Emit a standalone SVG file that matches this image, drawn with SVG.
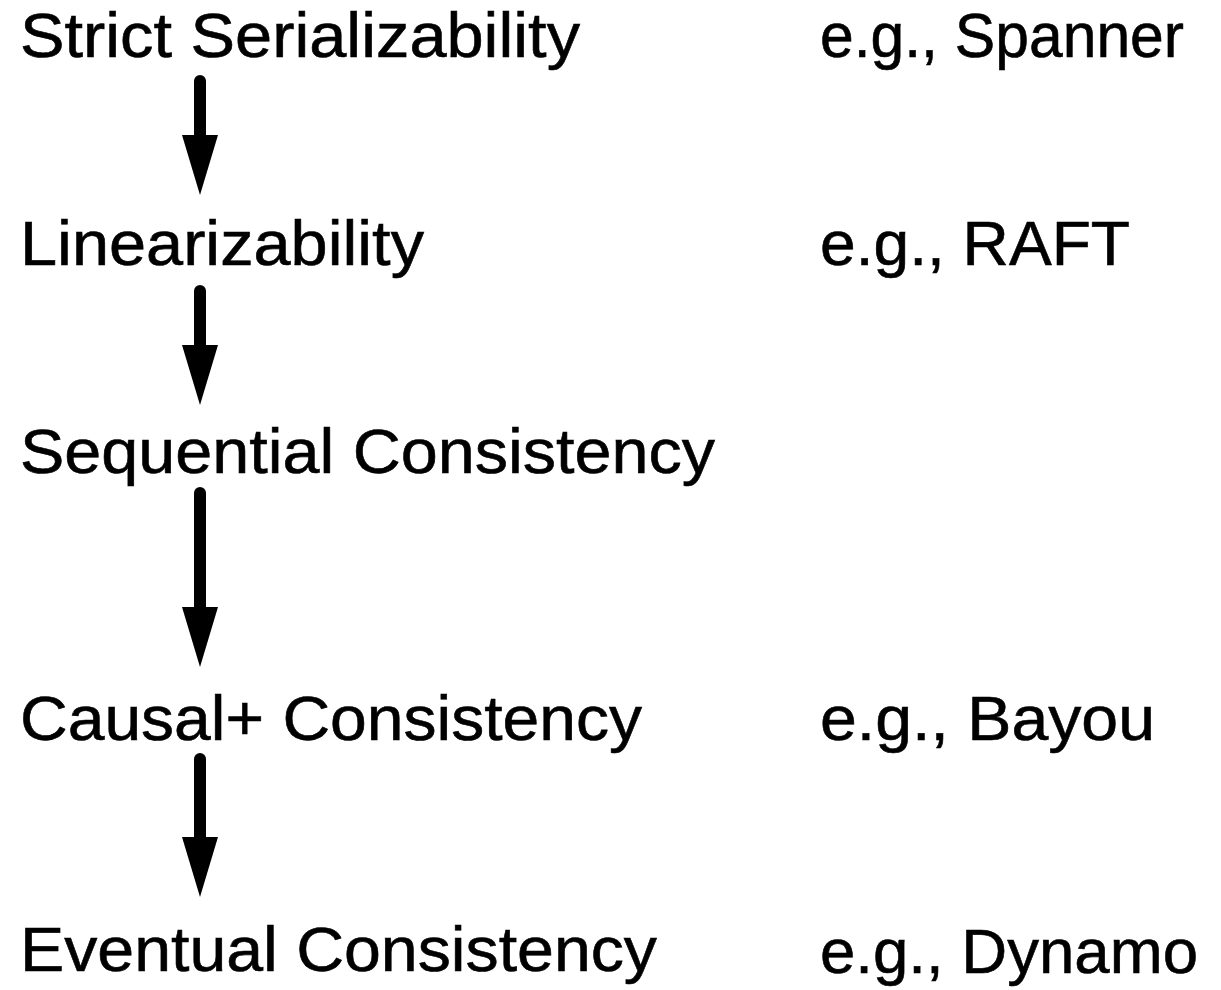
<svg xmlns="http://www.w3.org/2000/svg" width="1221" height="990" viewBox="0 0 1221 990">
<defs>
<style>
.t{font-family:"Liberation Sans",Arial,Helvetica,sans-serif;font-size:63px;fill:#000;stroke:#000;stroke-width:0.6;}
.c{stroke:#000;stroke-width:12;stroke-linecap:round;fill:none;}
</style>
<marker id="ah" markerUnits="userSpaceOnUse" markerWidth="62" markerHeight="40" viewBox="0 -20 62 40" refX="0" refY="0" orient="auto">
<path d="M0,-18 L60,0 L0,18 Z" fill="#000"/>
</marker>
</defs>
<rect width="1221" height="990" fill="#fff"/>
<g id="n1"><text class="t" x="20" y="57" textLength="560" lengthAdjust="spacingAndGlyphs">Strict Serializability</text></g>
<g id="e1"><text class="t" x="820" y="57" textLength="364" lengthAdjust="spacingAndGlyphs">e.g., Spanner</text></g>
<g id="n2"><text class="t" x="20" y="265" textLength="404" lengthAdjust="spacingAndGlyphs">Linearizability</text></g>
<g id="e2"><text class="t" x="820" y="265" textLength="310" lengthAdjust="spacingAndGlyphs">e.g., RAFT</text></g>
<g id="n3"><text class="t" x="20" y="473" textLength="695" lengthAdjust="spacingAndGlyphs">Sequential Consistency</text></g>
<g id="n4"><text class="t" x="20" y="740" textLength="622" lengthAdjust="spacingAndGlyphs">Causal+ Consistency</text></g>
<g id="e4"><text class="t" x="820" y="740" textLength="335" lengthAdjust="spacingAndGlyphs">e.g., Bayou</text></g>
<g id="n5"><text class="t" x="20" y="971" textLength="637" lengthAdjust="spacingAndGlyphs">Eventual Consistency</text></g>
<g id="e5"><text class="t" x="820" y="973" textLength="378" lengthAdjust="spacingAndGlyphs">e.g., Dynamo</text></g>
<g id="connectors">
<line class="c" x1="200" y1="81" x2="200" y2="135" marker-end="url(#ah)"/>
<line class="c" x1="200" y1="291" x2="200" y2="345" marker-end="url(#ah)"/>
<line class="c" x1="200" y1="493" x2="200" y2="607" marker-end="url(#ah)"/>
<line class="c" x1="200" y1="759" x2="200" y2="837" marker-end="url(#ah)"/>
</g>
</svg>
